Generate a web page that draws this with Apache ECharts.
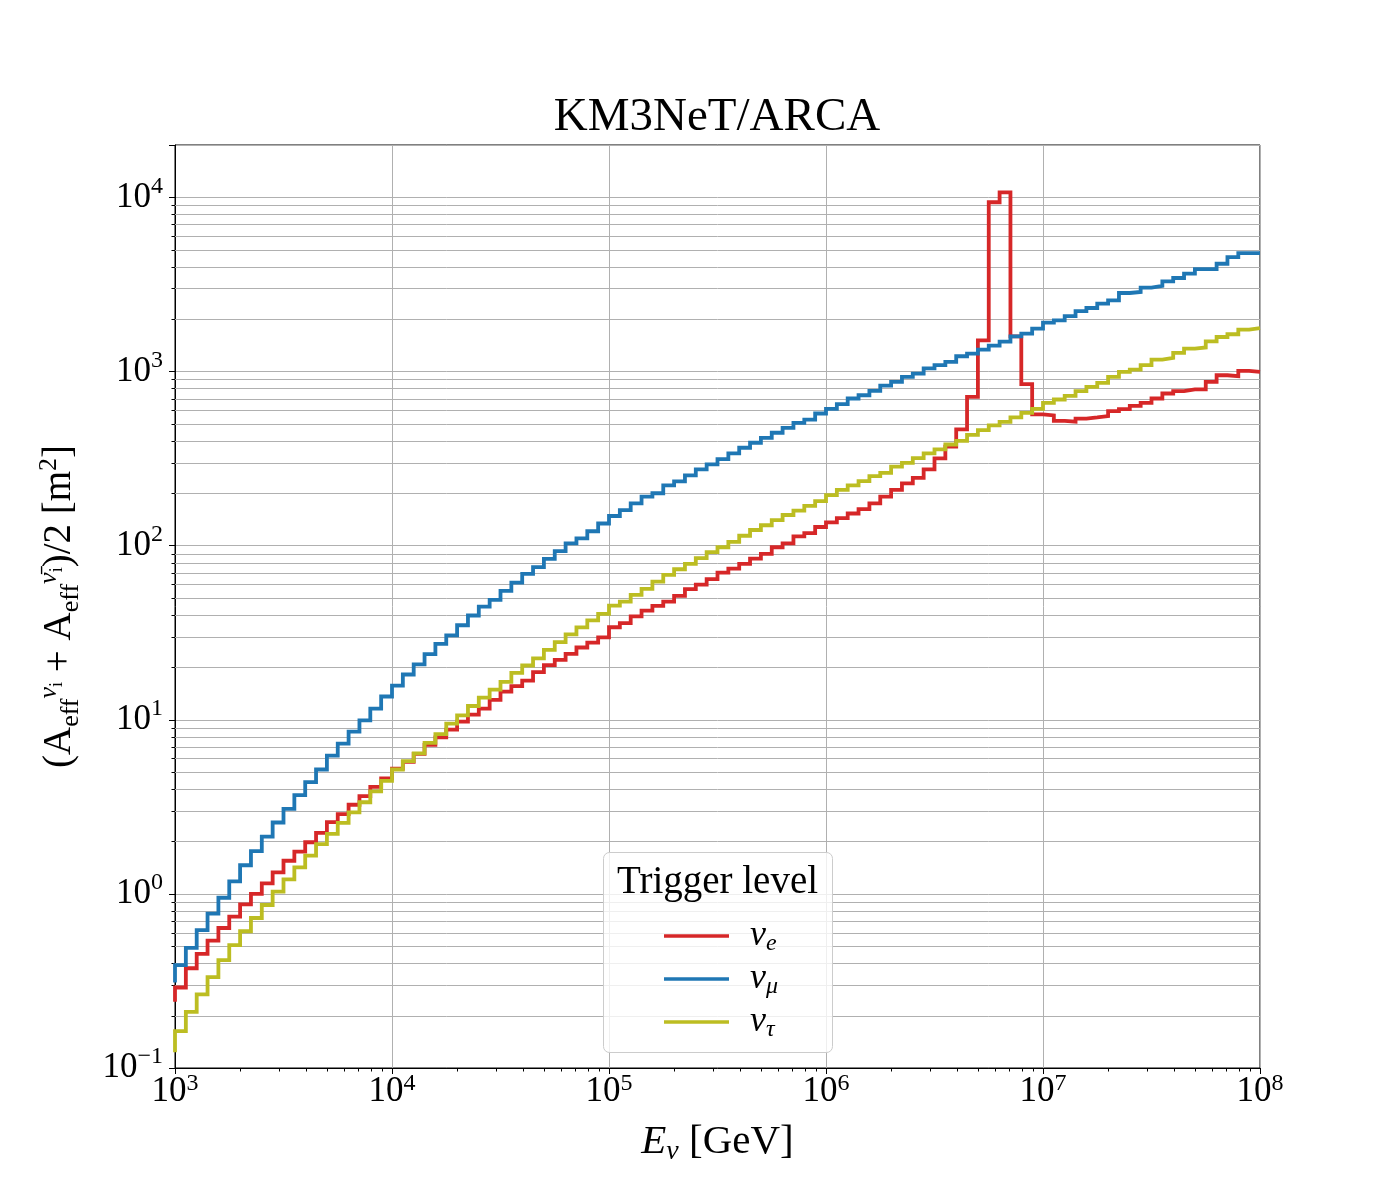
<!DOCTYPE html>
<html lang="en">
<head>
<meta charset="UTF-8" />
<title>KM3NeT/ARCA</title>
<style>
    * { box-sizing: border-box; margin: 0; padding: 0; }
    html, body { background: #fff; }
    #chart { width: 1400px; height: 1200px; }
</style>
</head>
<body>
<div id="chart"></div>
<script src="https://cdn.jsdelivr.net/npm/echarts@6/dist/echarts.min.js"></script>
<script>
// histogram binning: 20 log-spaced bins per decade from 1e3 to 1e8 GeV
var E_MIN = 1e3
var BINS_PER_DECADE = 20

// (A_eff(nu) + A_eff(nubar)) / 2 in m^2, one value per bin
var nuE = [
    0.29, 0.374, 0.452, 0.539, 0.637, 0.74, 0.87, 1.0, 1.15, 1.33,
    1.55, 1.75, 1.98, 2.24, 2.58, 2.87, 3.25, 3.64, 4.12, 4.61,
    5.24, 5.73, 6.37, 7.17, 7.93, 8.77, 9.75, 10.7, 11.6, 13.0,
    14.5, 15.6, 16.8, 18.8, 20.6, 22.1, 23.9, 26.0, 27.7, 29.7,
    34.0, 35.9, 39.2, 42.4, 45.1, 47.7, 51.5, 56.2, 59.8, 64.2,
    70.0, 73.8, 78.5, 84.3, 89.6, 97.9, 103, 113, 118, 128,
    136, 144, 153, 162, 175, 191, 209, 228, 245, 274,
    317, 370, 465, 715, 1511, 9380, 10700, 1593, 846, 567,
    560, 521, 515, 537, 545, 555, 592, 608, 635, 661,
    700, 748, 771, 789, 789, 872, 952, 940, 1008, 995
]
var nuMu = [
    0.39, 0.49, 0.62, 0.77, 0.95, 1.18, 1.46, 1.76, 2.13, 2.57,
    3.08, 3.69, 4.38, 5.18, 6.22, 7.29, 8.55, 9.93, 11.6, 13.6,
    15.7, 18.2, 20.8, 23.8, 27.3, 30.5, 34.9, 39.7, 44.7, 48.8,
    55.0, 61.4, 68.8, 75.2, 83.9, 92.9, 103, 110, 121, 134,
    148, 160, 175, 191, 200, 222, 234, 253, 274, 293,
    314, 339, 365, 390, 416, 445, 475, 507, 530, 574,
    610, 650, 700, 731, 774, 831, 872, 931, 973, 1044,
    1087, 1135, 1224, 1268, 1337, 1410, 1487, 1593, 1652, 1765,
    1910, 1968, 2083, 2225, 2316, 2455, 2565, 2825, 2865, 3035,
    3100, 3297, 3445, 3650, 3875, 3875, 4160, 4540, 4785, 4785
]
var nuTau = [
    0.163, 0.21, 0.265, 0.333, 0.416, 0.508, 0.61, 0.727, 0.863, 1.03,
    1.21, 1.42, 1.66, 1.93, 2.21, 2.56, 2.94, 3.36, 3.88, 4.46,
    5.18, 5.78, 6.42, 7.36, 8.28, 9.5, 10.6, 12.0, 13.4, 14.9,
    16.5, 18.6, 20.5, 22.5, 25.2, 27.9, 30.9, 33.9, 37.2, 40.6,
    45.2, 47.7, 52.2, 56.5, 62.2, 67.9, 73.2, 78.5, 84.7, 91.7,
    97.9, 105, 114, 123, 131, 140, 150, 159, 169, 180,
    195, 209, 222, 235, 251, 262, 284, 299, 318, 339,
    357, 381, 400, 433, 461, 490, 514, 545, 579, 610,
    661, 691, 724, 771, 816, 861, 931, 995, 1026, 1087,
    1172, 1198, 1279, 1355, 1374, 1492, 1579, 1637, 1741, 1778
]
// where each step curve begins on the left edge
var nuEStart = 0.24
var nuMuStart = 0.31
var nuTauStart = 0.123

var seriesNames = ['nu_e', 'nu_mu', 'nu_tau']
var legendLabels = ['{nu|ν}{sub|e}', '{nu|ν}{sub|μ}', '{nu|ν}{sub|τ}']
var colors = ['#d62728', '#1f77b4', '#bcbd22']

var X_MIN = 1e3, X_MAX = 1e8
var Y_MIN = 0.1, Y_MAX = 2e4

var FONT = '"Liberation Serif", "DejaVu Serif", serif'

function binEdge(i) {
    return E_MIN * Math.pow(10, i / BINS_PER_DECADE)
}

// points for a 'post' style step line
function stepPoints(values, start) {
    var pts = [[binEdge(0), start]]
    values.forEach(function (v, i) {
        pts.push([binEdge(i), v])
    })
    pts.push([binEdge(values.length), values[values.length - 1]])
    return pts
}

// minor tick positions (2..9 x 10^k)
var yMinor = []
for (var d = -1; d <= 4; d++) {
    for (var m = 2; m <= 9; m++) {
        var v = m * Math.pow(10, d)
        if (v < Y_MAX) yMinor.push([X_MIN, v])
    }
}
var xMinor = []
for (var d2 = 3; d2 <= 7; d2++) {
    for (var m2 = 2; m2 <= 9; m2++) {
        xMinor.push([m2 * Math.pow(10, d2), Y_MIN])
    }
}

function powLabel(val) {
    var e = Math.round(Math.log10(val))
    if (Math.abs(val - Math.pow(10, e)) > 1e-6 * val) return ''
    return '10{sup|' + (e < 0 ? '\u2212' + (-e) : e) + '}'
}

var tickRich = {
    sup: { fontFamily: FONT, fontSize: 24, lineHeight: 24, verticalAlign: 'top', color: '#000' }
}

var chart = echarts.init(document.getElementById('chart'))

var series = [
    {
        // minor horizontal grid lines + left minor ticks
        type: 'custom',
        silent: true,
        z: 1,
        clip: false,
        data: yMinor,
        encode: { x: 0, y: 1 },
        renderItem: function (params, api) {
            var cs = params.coordSys
            var y = Math.round(api.coord([X_MIN, api.value(1)])[1]) + 0.5
            return {
                type: 'group',
                children: [
                    { type: 'line', shape: { x1: cs.x, y1: y, x2: cs.x + cs.width, y2: y }, style: { stroke: '#b0b0b0', lineWidth: 1 } },
                    { type: 'line', shape: { x1: cs.x - 3.5, y1: y, x2: cs.x, y2: y }, style: { stroke: '#000', lineWidth: 1 } }
                ]
            }
        }
    },
    {
        // bottom minor ticks
        type: 'custom',
        silent: true,
        z: 1,
        clip: false,
        data: xMinor,
        encode: { x: 0, y: 1 },
        renderItem: function (params, api) {
            var cs = params.coordSys
            var x = Math.round(api.coord([api.value(0), Y_MIN])[0]) + 0.5
            var yb = cs.y + cs.height
            return {
                type: 'line',
                shape: { x1: x, y1: yb, x2: x, y2: yb + 3.5 },
                style: { stroke: '#000', lineWidth: 1 }
            }
        }
    }
]

var curves = [[nuE, nuEStart], [nuMu, nuMuStart], [nuTau, nuTauStart]]
curves.forEach(function (c, i) {
    series.push({
        name: seriesNames[i],
        type: 'line',
        step: 'end',
        z: 3,
        showSymbol: false,
        symbol: 'none',
        animation: false,
        data: stepPoints(c[0], c[1]),
        lineStyle: { color: colors[i], width: 3.8, join: 'miter', cap: 'butt' },
        itemStyle: { color: colors[i] }
    })
})

chart.setOption({
    animation: false,
    backgroundColor: '#fff',
    grid: {
        left: 175, right: 140, top: 145, bottom: 132,
        show: true, borderColor: '#000', borderWidth: 1, backgroundColor: 'transparent'
    },
    xAxis: {
        type: 'log', logBase: 10, min: X_MIN, max: X_MAX,
        name: '{it|E}{sub|ν} [GeV]',
        nameLocation: 'middle', nameGap: 50,
        nameTextStyle: {
            fontFamily: FONT, fontSize: 41, color: '#000', lineHeight: 48,
            rich: {
                it: { fontFamily: FONT, fontSize: 41, fontStyle: 'italic', lineHeight: 48, color: '#000' },
                sub: { fontFamily: FONT, fontSize: 28, fontStyle: 'italic', lineHeight: 28, verticalAlign: 'bottom', color: '#000' }
            }
        },
        axisLine: { show: true, lineStyle: { color: '#000', width: 1 } },
        axisTick: { show: true, length: 6, lineStyle: { color: '#000', width: 1 } },
        axisLabel: {
            formatter: powLabel, margin: 4,
            fontFamily: FONT, fontSize: 35, color: '#000', lineHeight: 40,
            rich: tickRich
        },
        splitLine: { show: true, lineStyle: { color: '#b0b0b0', width: 1 } }
    },
    yAxis: {
        type: 'log', logBase: 10, min: Y_MIN, max: Y_MAX,
        name: '(A{sub|eff}{sup|ν}{ssub|i} + A{sub|eff}{sup|ν\u0304}{ssub|i})/2 [m{sup2|2}]',
        nameLocation: 'middle', nameRotate: 90, nameGap: 91,
        nameTextStyle: {
            fontFamily: FONT, fontSize: 39, color: '#000', lineHeight: 48,
            rich: {
                sub: { fontFamily: FONT, fontSize: 26, lineHeight: 26, verticalAlign: 'bottom', color: '#000' },
                sup: { fontFamily: FONT, fontSize: 26, fontStyle: 'italic', lineHeight: 26, verticalAlign: 'top', color: '#000' },
                ssub: { fontFamily: FONT, fontSize: 18, lineHeight: 18, padding: [12, 0, 0, 0], verticalAlign: 'top', color: '#000' },
                sup2: { fontFamily: FONT, fontSize: 26, lineHeight: 26, verticalAlign: 'top', color: '#000' }
            }
        },
        axisLine: { show: true, lineStyle: { color: '#000', width: 1 } },
        axisTick: { show: true, length: 6, lineStyle: { color: '#000', width: 1 } },
        axisLabel: {
            formatter: powLabel, margin: 12,
            fontFamily: FONT, fontSize: 35, color: '#000', lineHeight: 46,
            rich: tickRich
        },
        splitLine: { show: true, lineStyle: { color: '#b0b0b0', width: 1 } }
    },
    legend: {
        data: seriesNames,
        orient: 'vertical',
        left: 659, top: 913,
        z: 10,
        selectedMode: false,
        icon: 'rect',
        itemWidth: 65, itemHeight: 3.5,
        itemGap: 5,
        formatter: function (name) {
            return legendLabels[seriesNames.indexOf(name)]
        },
        textStyle: {
            fontFamily: FONT, fontSize: 34, color: '#000', padding: [0, 0, 0, 16],
            rich: {
                nu: { fontFamily: FONT, fontSize: 36, fontStyle: 'italic', lineHeight: 40, color: '#000' },
                sub: { fontFamily: FONT, fontSize: 24, fontStyle: 'italic', lineHeight: 24, verticalAlign: 'bottom', color: '#000' }
            }
        }
    },
    graphic: [
        {
            type: 'text', x: 717, y: 118, z: 10,
            style: { text: 'KM3NeT/ARCA', fontFamily: FONT, fontSize: 47, fill: '#000', align: 'center', verticalAlign: 'middle' }
        },
        {
            type: 'rect', z: 8,
            shape: { x: 603.5, y: 852.5, width: 229, height: 200, r: 6 },
            style: { fill: 'rgba(255,255,255,0.8)', stroke: '#cccccc', lineWidth: 1 }
        },
        {
            type: 'text', x: 717.5, y: 883, z: 10,
            style: { text: 'Trigger level', fontFamily: FONT, fontSize: 39, fill: '#000', align: 'center', verticalAlign: 'middle' }
        }
    ],
    series: series
})
</script>
</body>
</html>
